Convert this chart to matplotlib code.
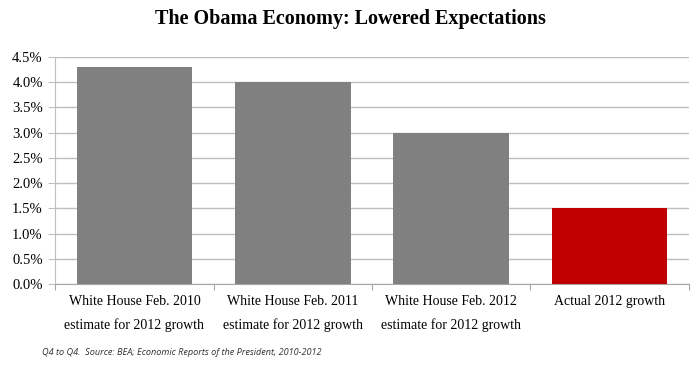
import matplotlib.pyplot as plt
import numpy as np

# Chart data
categories = ["White House Feb. 2010\nestimate for 2012 growth",
              "White House Feb. 2011\nestimate for 2012 growth",
              "White House Feb. 2012\nestimate for 2012 growth",
              "Actual 2012 growth"]
growth = [4.3, 4.0, 3.0, 1.5]
bar_colors = ["#808080", "#808080", "#808080", "#C00000"]
y_ticks = [0.0, 0.5, 1.0, 1.5, 2.0, 2.5, 3.0, 3.5, 4.0, 4.5]

plt.rcParams['font.family'] = ['Liberation Serif', 'DejaVu Serif']

fig = plt.figure(figsize=(7, 3.65), dpi=100)
ax = fig.add_axes([0.079, 0.222, 0.905, 0.622])

x = np.arange(len(categories))
ax.bar(x, growth, width=0.73, color=bar_colors, zorder=3)

ax.set_xlim(-0.5, len(categories) - 0.5)
ax.set_ylim(0, 4.5)
ax.set_yticks(y_ticks)
ax.set_yticklabels(["%.1f%%" % v for v in y_ticks], fontsize=10.5)
ax.yaxis.grid(True, color="#BFBFBF", linewidth=1, zorder=0)

# category labels between boundary ticks
ax.set_xticks(np.arange(-0.5, len(categories), 1.0))
ax.set_xticklabels([])
ax.set_xticks(x, minor=True)
ax.set_xticklabels(categories, minor=True, fontsize=10, linespacing=1.9,
                   ha="center", multialignment="center")
ax.tick_params(axis='x', which='minor', length=0, pad=8)
ax.tick_params(axis='x', which='major', length=4, color="#A6A6A6")
ax.tick_params(axis='y', length=5, color="#BFBFBF", pad=4)

for side in ["top", "right"]:
    ax.spines[side].set_visible(False)
ax.spines["left"].set_color("#BFBFBF")
ax.spines["bottom"].set_color("#A6A6A6")

fig.text(0.5, 0.948, "The Obama Economy: Lowered Expectations",
         ha="center", va="center", fontsize=14.5, fontweight="bold")
fig.text(0.06, 0.035, "Q4 to Q4.  Source: BEA; Economic Reports of the President, 2010-2012",
         ha="left", va="center", fontsize=6.6, style="italic", family=["Open Sans", "DejaVu Sans"],
         color="#303030")

plt.savefig("out.png", dpi=100)
